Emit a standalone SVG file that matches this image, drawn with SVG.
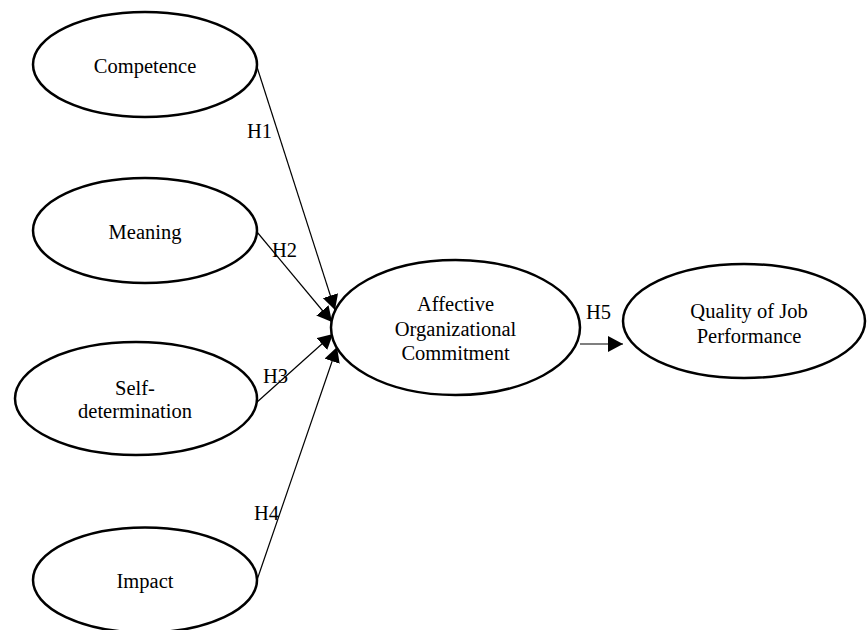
<svg xmlns="http://www.w3.org/2000/svg" width="868" height="630" viewBox="0 0 868 630">
<style>
.node ellipse{fill:#fff;stroke:#000;stroke-width:2.5}
text{font-family:"Liberation Serif","Times New Roman",serif;font-size:20.5px;fill:#000}
.t{text-anchor:middle}
.c line{stroke:#000;stroke-width:1.2}
</style>
<defs>
<marker id="ah" markerUnits="userSpaceOnUse" markerWidth="16" markerHeight="16" refX="15" refY="8" orient="auto">
<path d="M0,0 L15,8 L0,16 z" fill="#000"/>
</marker>
</defs>
<g class="c" id="connectors">
<line x1="257" y1="67" x2="335" y2="310" marker-end="url(#ah)"/>
<line x1="257" y1="232" x2="332" y2="322" marker-end="url(#ah)"/>
<line x1="256" y1="403" x2="333" y2="334" marker-end="url(#ah)"/>
<line x1="257" y1="580" x2="337" y2="347" marker-end="url(#ah)"/>
<line x1="580" y1="344" x2="623" y2="344" marker-end="url(#ah)"/>
<text x="247" y="138">H1</text>
<text x="272" y="257">H2</text>
<text x="263" y="383">H3</text>
<text x="254" y="520">H4</text>
<text x="586" y="319">H5</text>
</g>
<g class="node" id="competence"><ellipse cx="145" cy="64.5" rx="112" ry="52.5"/><text class="t" x="145" y="73">Competence</text></g>
<g class="node" id="meaning"><ellipse cx="145" cy="230.5" rx="112" ry="52.5"/><text class="t" x="145" y="239">Meaning</text></g>
<g class="node" id="selfdetermination"><ellipse cx="136" cy="398.5" rx="121" ry="56.5"/><text class="t" x="135" y="395">Self-</text><text class="t" x="135" y="418">determination</text></g>
<g class="node" id="impact"><ellipse cx="145" cy="580" rx="112" ry="52.5"/><text class="t" x="145" y="588">Impact</text></g>
<g class="node" id="affective"><ellipse cx="455.5" cy="327.5" rx="124.5" ry="67.5"/><text class="t" x="455.5" y="311">Affective</text><text class="t" x="455.5" y="336">Organizational</text><text class="t" x="455.5" y="360">Commitment</text></g>
<g class="node" id="quality"><ellipse cx="744" cy="321" rx="121" ry="57"/><text class="t" x="749" y="318">Quality of Job</text><text class="t" x="749" y="343">Performance</text></g>
</svg>
